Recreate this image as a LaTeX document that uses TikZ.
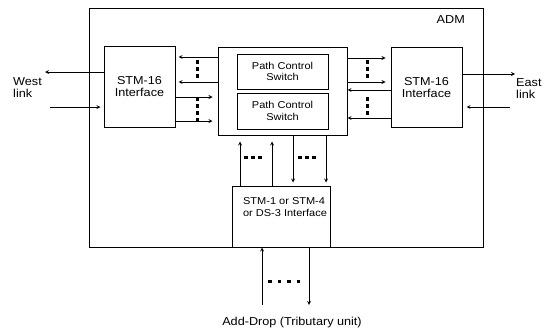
\documentclass[tikz,border=0pt]{standalone}
\usepackage{fontspec}
\setmainfont{Liberation Sans}[FakeStretch=1.1]
\usetikzlibrary{arrows,positioning,calc}

\begin{document}
\begin{tikzpicture}[x=1pt,y=-1pt]
    % Define node styles
    \tikzstyle{admbox} = [rectangle, draw, line width=0.9pt, inner sep=0pt]
    \tikzstyle{iface} = [rectangle, draw, line width=1pt, align=center, font=\fontsize{11.5}{12.5}\selectfont]
    \tikzstyle{switch} = [rectangle, draw, line width=1pt, align=center, font=\fontsize{10}{11.5}\selectfont]
    \tikzstyle{tag} = [align=left, inner sep=0pt, font=\fontsize{11.5}{12}\selectfont]
    \tikzstyle{arrow} = [->,>=stealth, line width=0.8pt]
    \tikzstyle{dotrow} = [line width=3pt, dash pattern=on 3.5pt off 3.5pt]
    \useasboundingbox (0,0) rectangle (551,332);

    % ADM frame
    \node[admbox, minimum width=394, minimum height=239] (adm) at (286,127.5) {};
    \node[tag, anchor=north east] (admtag) at (465,15) {ADM};

    % Line interfaces
    \node[iface, minimum width=71, minimum height=81] (westif) at (139.5,86.5) {STM-16\\Interface};
    \node[iface, minimum width=71, minimum height=80] (eastif) at (426.5,87.5) {STM-16\\Interface};

    % Path control switches
    \node[switch, minimum width=129, minimum height=88] (pcs) at (282.5,91) {};
    \node[switch, minimum width=91, minimum height=35] (pcs1) at (282.5,71.5) {Path Control\\Switch};
    \node[switch, minimum width=91, minimum height=36] (pcs2) at (282.5,111) {Path Control\\Switch};

    % Tributary interface
    \node[switch, minimum width=98, minimum height=61] (trib) at (281,216.5) {};
    \node[tag, font=\fontsize{10}{11.5}\selectfont] (tribtag) at (285,207) {STM-1 or STM-4\\or DS-3 Interface};

    % Link labels
    \node[tag, anchor=west] (west) at (13,88) {West\\link};
    \node[tag, anchor=west] (east) at (516,89) {East\\link};
    \node[tag] (adddrop) at (292,323) {Add-Drop (Tributary unit)};

    % Free ends
    \coordinate (wout) at (45,72);
    \coordinate (win) at (50,107);
    \coordinate (eout) at (515,74);
    \coordinate (ein) at (510,107);
    \coordinate (add) at (262,305);
    \coordinate (drop) at (309,305);

    % West and east links
    \draw[arrow] (westif.west |- wout) -- (wout);
    \draw[arrow, shorten >=3pt] (win) -- (westif.west |- win);
    \draw[arrow] (eastif.east |- eout) -- (eout);
    \draw[arrow, shorten >=4pt] (ein) -- (eastif.east |- ein);

    % West interface <-> switch
    \draw[arrow, shorten >=3pt] (pcs.west |- 0,57) -- (westif.east |- 0,57);
    \draw[arrow, shorten >=3pt] (pcs.west |- 0,82) -- (westif.east |- 0,82);
    \draw[arrow, shorten >=5pt] (westif.east |- 0,97) -- (pcs.west |- 0,97);
    \draw[arrow, shorten >=5pt] (westif.east |- 0,121) -- (pcs.west |- 0,121);
    \draw[dotrow] (197,60) -- (197,81);
    \draw[dotrow] (197,97) -- (197,121);

    % Switch <-> east interface
    \draw[arrow, shorten >=5pt] (pcs.east |- 0,58) -- (eastif.west |- 0,58);
    \draw[arrow, shorten >=5pt] (pcs.east |- 0,82) -- (eastif.west |- 0,82);
    \draw[arrow] (eastif.west |- 0,90) -- (pcs.east |- 0,90);
    \draw[arrow] (eastif.west |- 0,118) -- (pcs.east |- 0,118);
    \draw[dotrow] (367,60) -- (367,81);
    \draw[dotrow] (367,97) -- (367,117);

    % Switch <-> tributary interface
    \draw[arrow, shorten >=6pt] (trib.north -| 240,0) -- (pcs.south -| 240,0);
    \draw[arrow, shorten >=6pt] (trib.north -| 272,0) -- (pcs.south -| 272,0);
    \draw[arrow, shorten >=3pt] (pcs.south -| 293,0) -- (trib.north -| 293,0);
    \draw[arrow, shorten >=3pt] (pcs.south -| 326,0) -- (trib.north -| 326,0);
    \draw[dotrow] (244,157) -- (265,157);
    \draw[dotrow] (298,157) -- (319,157);

    % Add-drop
    \draw[arrow] (add) -- (trib.south -| add);
    \draw[arrow] (trib.south -| drop) -- (drop);
    \draw[dotrow, dash pattern=on 3.5pt off 6pt] (268,281) -- (302,281);
\end{tikzpicture}
\end{document}
